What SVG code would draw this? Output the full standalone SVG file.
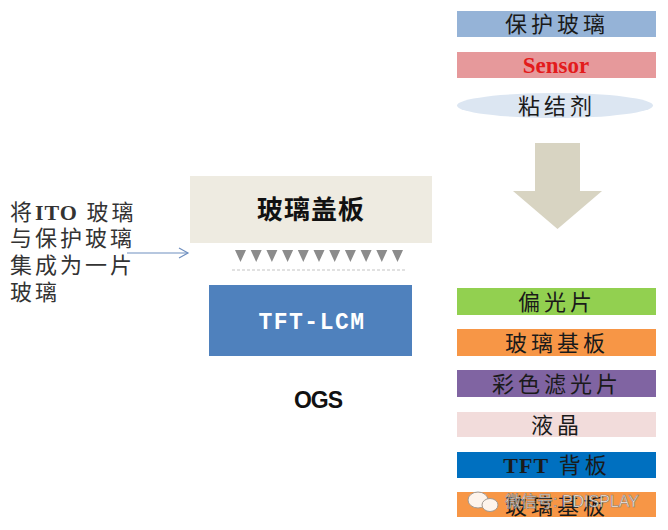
<svg xmlns="http://www.w3.org/2000/svg" width="668" height="530" viewBox="0 0 668 530">
<defs>
<style>
.cjk{font-family:"Liberation Serif","Noto Sans CJK SC",serif;fill:#1a1a1a;font-size:22px;text-anchor:middle;letter-spacing:4px}
.lt{font-family:"Liberation Serif","Noto Sans CJK SC",serif;fill:#333;font-size:22px;letter-spacing:3px}
.tri{fill:#8c8c8c}
</style>
<marker id="oa" markerWidth="12" markerHeight="12" refX="10" refY="6" orient="auto" markerUnits="userSpaceOnUse">
<path d="M1,1 L10,6 L1,11" fill="none" stroke="#6f8fbf" stroke-width="1.2"/>
</marker>
</defs>
<rect width="668" height="530" fill="#fff"/>

<g id="left-text">
<text class="lt" x="10" y="220">将<tspan font-weight="bold" letter-spacing="1">ITO</tspan> 玻璃</text>
<text class="lt" x="10" y="246">与保护玻璃</text>
<text class="lt" x="10" y="273">集成为一片</text>
<text class="lt" x="10" y="300">玻璃</text>
</g>

<g id="connectors">
<line x1="127" y1="253" x2="188" y2="253" stroke="#6f8fbf" stroke-width="1.2" marker-end="url(#oa)"/>
<path d="M535,143 H580 V191 H602 L557.5,229 L513,191 H535 Z" fill="#d8d4c2"/>
</g>

<g id="cover-glass">
<rect x="190" y="176" width="242" height="67" fill="#eeebe1"/>
<text x="311" y="219" font-family="'Noto Sans CJK SC',sans-serif" font-weight="bold" font-size="26" text-anchor="middle" fill="#111" letter-spacing="1">玻璃盖板</text>
</g>

<g id="adhesive-dots">
<path class="tri" d="M235,250 h11 l-5.5,12 z M250.7,250 h11 l-5.5,12 z M266.4,250 h11 l-5.5,12 z M282.1,250 h11 l-5.5,12 z M297.8,250 h11 l-5.5,12 z M313.5,250 h11 l-5.5,12 z M329.2,250 h11 l-5.5,12 z M344.9,250 h11 l-5.5,12 z M360.6,250 h11 l-5.5,12 z M376.3,250 h11 l-5.5,12 z M392,250 h11 l-5.5,12 z"/>
<line x1="232" y1="270" x2="406" y2="270" stroke="#d8d8d8" stroke-width="1.5" stroke-dasharray="3,2"/>
</g>

<g id="tft-lcm">
<rect x="209" y="285" width="203" height="71" fill="#4f81bd"/>
<text x="312" y="329" font-family="'Liberation Mono',monospace" font-weight="bold" font-size="23" text-anchor="middle" fill="#fff" letter-spacing="1.5">TFT-LCM</text>
</g>

<g id="ogs">
<text x="318" y="408" font-family="'Liberation Sans',sans-serif" font-weight="bold" font-size="23" text-anchor="middle" fill="#111" letter-spacing="-1">OGS</text>
</g>

<g id="protect-glass">
<rect x="457" y="11" width="199" height="26" fill="#95b3d7"/>
<text class="cjk" x="557" y="32">保护玻璃</text>
</g>
<g id="sensor">
<rect x="457" y="52" width="199" height="26" fill="#e6999b"/>
<text x="556" y="73" font-family="'Liberation Serif',serif" font-weight="bold" font-size="23" text-anchor="middle" fill="#e31b1b">Sensor</text>
</g>
<g id="glue">
<ellipse cx="555" cy="105.5" rx="98" ry="12.5" fill="#dce6f2"/>
<text class="cjk" x="557" y="114">粘结剂</text>
</g>

<g id="polarizer">
<rect x="457" y="288" width="199" height="27" fill="#92d050"/>
<text class="cjk" x="557" y="310">偏光片</text>
</g>
<g id="glass-substrate">
<rect x="457" y="329" width="199" height="27" fill="#f79646"/>
<text class="cjk" x="557" y="351">玻璃基板</text>
</g>
<g id="color-filter">
<rect x="457" y="370" width="199" height="27" fill="#8064a2"/>
<text class="cjk" x="557" y="392">彩色滤光片</text>
</g>
<g id="liquid-crystal">
<rect x="457" y="412" width="199" height="25" fill="#f2dcdb"/>
<text class="cjk" x="557" y="433">液晶</text>
</g>
<g id="tft-backplane">
<rect x="457" y="452" width="199" height="26" fill="#0070c0"/>
<text class="cjk" x="557" y="473"><tspan font-weight="bold" letter-spacing="1">TFT</tspan> 背板</text>
</g>
<g id="glass-substrate-2">
<rect x="457" y="492" width="199" height="25" fill="#f79646"/>
<text class="cjk" x="557" y="514">玻璃基板</text>
</g>

<g id="watermark" opacity="0.9">
<ellipse cx="478" cy="500" rx="10" ry="8" fill="#fff" stroke="#999" stroke-width="1"/>
<ellipse cx="490" cy="505" rx="8" ry="6.5" fill="#fff" stroke="#999" stroke-width="1"/>
<text x="505" y="507" font-family="'Liberation Sans','Noto Sans CJK SC',sans-serif" font-size="16" fill="#fff" stroke="#777" stroke-width="0.6">微信号: PDISPLAY</text>
</g>
</svg>
